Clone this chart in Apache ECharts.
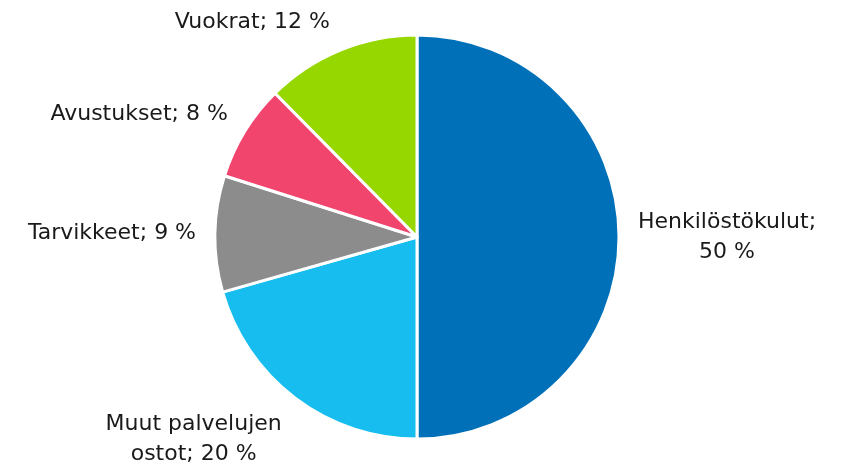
<!DOCTYPE html>
<html style="height: 100%">
<head>
<meta charset="utf-8">
<script src="https://cdn.jsdelivr.net/npm/echarts@6/dist/echarts.min.js"></script>
</head>
<body style="height: 100%; margin: 0; background: #fff">
<div id="container" style="width: 842px; height: 468px"></div>
<script>
var categories = ['Henkilöstökulut', 'Muut palvelujen ostot', 'Tarvikkeet', 'Avustukset', 'Vuokrat'];
var values = [50, 20.6, 9.3, 7.7, 12.4];
var colors = ['#0070b8', '#16bdee', '#8c8c8c', '#f2456e', '#97d700'];
var labelText = ['Henkilöstökulut;\n50 %', 'Muut palvelujen\nostot; 20 %', 'Tarvikkeet; 9 %', 'Avustukset; 8 %', 'Vuokrat; 12 %'];

var pieCenter = [417, 237];
var chart = echarts.init(document.getElementById('container'));
var data = [];
for (var i = 0; i < categories.length; i++) {
  data.push({ name: categories[i], value: values[i], itemStyle: { color: colors[i] } });
}
// excel-like placement: box touches the anchor point on the side facing the pie
function placeLabel(p) {
  var r = p.labelRect;
  var ax = p.align === 'left' ? r.x : r.x + r.width;
  var ay = r.y + r.height / 2;
  var vx = ax - pieCenter[0], vy = ay - pieCenter[1];
  var d = Math.sqrt(vx * vx + vy * vy);
  var k = Math.max(-1, Math.min(1, -1.3 * vy / d));
  var cx = p.align === 'left' ? ax + r.width / 2 : ax - r.width / 2;
  var cy = ay - (r.height / 2) * k;
  return { x: cx, y: cy, align: 'center', verticalAlign: 'middle' };
}
chart.setOption({
  animation: false,
  series: [{
    type: 'pie',
    center: pieCenter,
    radius: 202,
    startAngle: 90,
    clockwise: true,
    avoidLabelOverlap: false,
    data: data,
    itemStyle: { borderColor: '#fff', borderWidth: 3 },
    label: {
      show: true,
      position: 'outside',
      fontFamily: 'DejaVu Sans',
      fontSize: 22,
      color: '#1a1a1a',
      lineHeight: 30,
      formatter: function (p) { return labelText[p.dataIndex]; }
    },
    labelLine: { show: false, length: 14, length2: 0 },
    labelLayout: placeLabel
  }]
});
</script>
</body>
</html>
